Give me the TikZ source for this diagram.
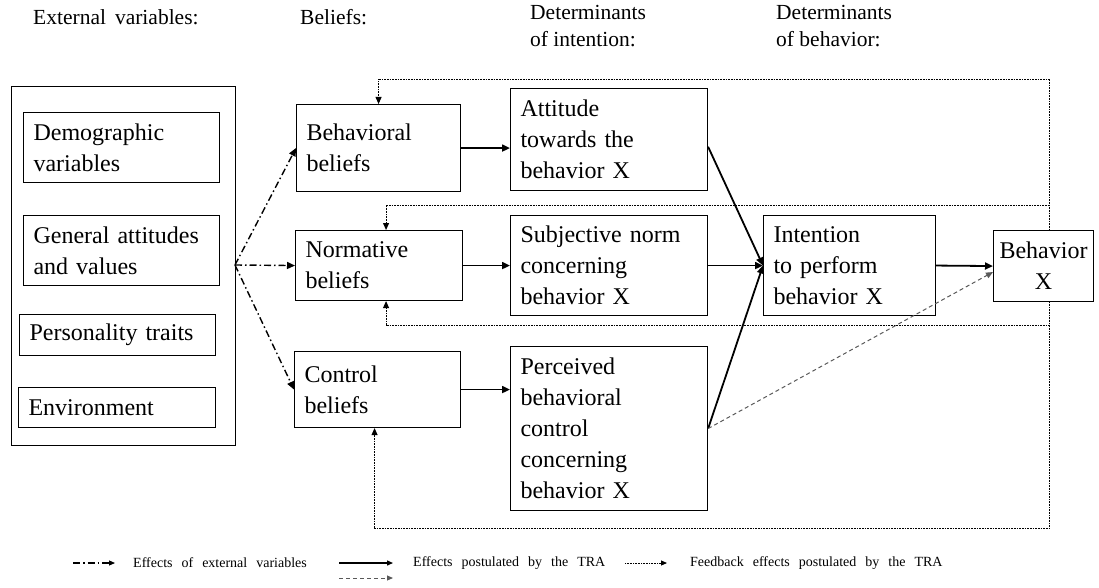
\documentclass[tikz,border=0pt]{standalone}
\usepackage{fontspec}
\setmainfont{Liberation Serif}
\usetikzlibrary{arrows.meta,calc}
\newcommand\wideword[1]{{\spaceskip=9pt plus 2pt\relax #1}}

\begin{document}
\begin{tikzpicture}[x=1pt,y=-1pt,
  box/.style={draw, line width=1.1pt, inner xsep=10pt, inner ysep=0pt,
    align=left, font=\rmfamily\fontsize{24}{31}\selectfont, anchor=north west},
  head/.style={anchor=north west, align=left, inner sep=0pt,
    font=\rmfamily\fontsize{21.5}{27}\selectfont},
  legend/.style={anchor=west, inner sep=0pt,
    font=\rmfamily\fontsize{14}{16}\selectfont},
  tra/.style={line width=1.8pt, -{Triangle[length=8pt,width=7pt]}},
  ext/.style={line width=1.4pt, dash pattern=on 7pt off 3pt on 1.5pt off 3pt,
    -{Triangle[length=8pt,width=7pt]}},
  pbcdash/.style={line width=1pt, gray!70!black, dash pattern=on 4pt off 3pt,
    -{Triangle[length=7pt,width=6pt]}},
  fb/.style={line width=0.9pt, gray!75!black, dash pattern=on 1pt off 0.6pt,
    -{Triangle[length=7pt,width=6pt]}, black},
]
\useasboundingbox (0,0) rectangle (1099,588);

% column headings
\node[head] (h1) at (33,9) {\wideword{External variables:}};
\node[head] (h2) at (300,9) {Beliefs:};
\node[head] (h3) at (530,5) {Determinants\\of intention:};
\node[head] (h4) at (776,5) {Determinants\\of behavior:};

% external variables
\node[box, minimum width=224pt, minimum height=359pt] (outer) at (11,86) {};
\node[box, text width=176pt, minimum height=70pt] (demo) at (23,112) {Demographic\\variables};
\node[box, text width=176pt, minimum height=70pt] (gen) at (23,215) {General attitudes\\and values};
\node[box, text width=176pt, minimum height=41pt] (pers) at (19,314) {Personality traits};
\node[box, text width=177pt, minimum height=40pt] (env) at (18,387) {Environment};

% beliefs
\node[box, text width=144pt, minimum height=87pt] (bb) at (296,104) {Behavioral\\beliefs};
\node[box, text width=147pt, minimum height=70pt] (nb) at (295,230) {Normative\\beliefs};
\node[box, text width=146pt, minimum height=76pt] (cb) at (294,351) {Control\\beliefs};

% determinants of intention
\node[box, text width=177pt, minimum height=102pt] (att) at (510,88) {Attitude\\towards the\\behavior X};
\node[box, text width=177pt, minimum height=100pt] (sn) at (510,215) {Subjective norm\\concerning\\behavior X};
\node[box, text width=177pt, minimum height=164pt] (pbc) at (510,346) {Perceived\\behavioral\\control\\concerning\\behavior X};

% determinants of behavior
\node[box, text width=152pt, minimum height=100pt] (int) at (763,215) {Intention\\to perform\\behavior X};
\node[box, align=center, inner xsep=0pt, text width=100pt, minimum height=71pt] (bx) at (993,230) {Behavior\\X};

% effects of external variables
\coordinate (fan) at (235,265);
\draw[ext] (fan) -- (bb.west);
\draw[ext] (fan) -- (nb.west);
\draw[ext] (fan) -- (cb.west);

% effects postulated by the theory
\draw[tra] (bb.east) -- (bb.east -| att.west);
\draw[tra] (nb.east) -- (nb.east -| sn.west);
\draw[tra] (cb.east) -- (cb.east -| pbc.west);
\draw[tra] (sn.east) -- (int.west);
\draw[tra] ($(att.north east)!0.57!(att.south east)$) -- (int.west);
\draw[tra] (pbc.east) -- (int.west);
\draw[tra] (int.east) -- (bx.west);
\draw[pbcdash] (pbc.east) -- ([yshift=-6pt]bx.west);

% feedback loops
\draw[fb] ([xshift=6pt]bx.north) |- ([yshift=25pt]bb.north) -- (bb.north);
\draw[fb] ([xshift=6pt]bx.north) |- ([xshift=7pt,yshift=25pt]nb.north) -- ([xshift=7pt]nb.north);
\draw[fb] ([xshift=6pt]bx.south) |- ([xshift=7pt,yshift=-24pt]nb.south) -- ([xshift=7pt]nb.south);
\draw[fb] ([xshift=6pt]bx.south) |- ([xshift=-3pt,yshift=-100pt]cb.south) -- ([xshift=-3pt]cb.south);

% legend
\coordinate (l1a) at (73,563);  \coordinate (l1b) at (115,563);
\coordinate (l2a) at (339,563); \coordinate (l2b) at (393,563);
\coordinate (l3a) at (339,578); \coordinate (l3b) at (393,578);
\coordinate (l4a) at (625,563); \coordinate (l4b) at (667,563);
\draw[ext, line width=1.1pt, -{Triangle[length=6pt,width=5pt]}] (l1a) -- (l1b);
\draw[tra, line width=1.3pt, -{Triangle[length=6pt,width=5pt]}] (l2a) -- (l2b);
\draw[pbcdash, -{Triangle[length=6pt,width=5pt]}] (l3a) -- (l3b);
\draw[fb, -{Triangle[length=6pt,width=5pt]}] (l4a) -- (l4b);
\node[legend] (t1) at (133,563) {\wideword{Effects of external variables}};
\node[legend] (t2) at (413,563) {\wideword{Effects postulated by the TRA}};
\node[legend] (t3) at (690,563) {\wideword{Feedback effects postulated by the TRA}};
\end{tikzpicture}
\end{document}
